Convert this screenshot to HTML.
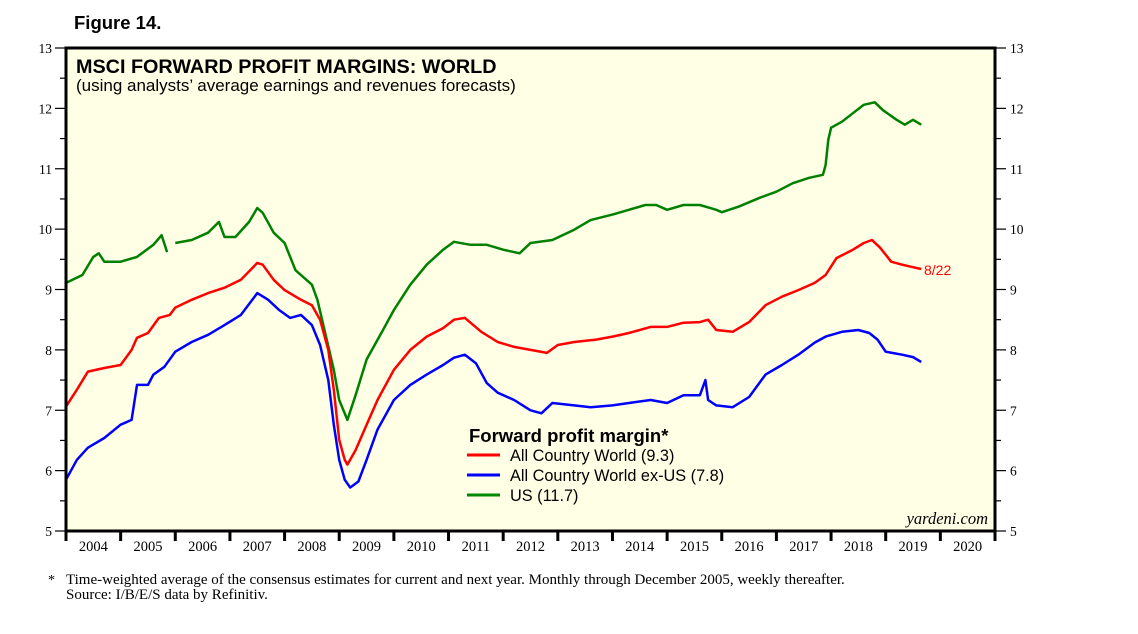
<!DOCTYPE html>
<html><head><meta charset="utf-8"><style>
body{margin:0;background:#fff;width:1138px;height:634px;overflow:hidden}
svg{display:block;font-family:"Liberation Sans",sans-serif}
.ser{font-family:"Liberation Serif",serif}
</style></head><body>
<svg id="c" width="1138" height="634">
<text x="74" y="29" font-size="18.5" font-weight="bold">Figure 14.</text>
<rect x="66" y="48" width="929" height="483" fill="#ffffe6"/>
<g id="ticks"></g>
<g id="lines"></g>
<rect x="66" y="48" width="929" height="483" fill="none" stroke="#000" stroke-width="3"/>
<text x="76" y="73" font-size="19.8" font-weight="bold">MSCI FORWARD PROFIT MARGINS: WORLD</text>
<text x="76" y="91" font-size="17">(using analysts’ average earnings and revenues forecasts)</text>
<g>
<text x="469" y="442" font-size="18.5" font-weight="bold">Forward profit margin*</text>
<line x1="467" y1="455" x2="500" y2="455" stroke="#f00" stroke-width="3"/>
<text x="510" y="461" font-size="16.3">All Country World (9.3)</text>
<line x1="467" y1="475" x2="500" y2="475" stroke="#00f" stroke-width="3"/>
<text x="510" y="481" font-size="16.3">All Country World ex-US (7.8)</text>
<line x1="467" y1="495" x2="500" y2="495" stroke="#080" stroke-width="3"/>
<text x="510" y="501" font-size="16.3">US (11.7)</text>
</g>
<text x="924" y="275" font-size="14" fill="#f00">8/22</text>
<text x="988" y="524" font-size="16.5" font-style="italic" text-anchor="end" class="ser">yardeni.com</text>
<text x="48" y="584" font-size="14" class="ser">*</text>
<text x="66" y="584" font-size="15" class="ser">Time-weighted average of the consensus estimates for current and next year. Monthly through December 2005, weekly thereafter.</text>
<text x="66" y="599" font-size="15" class="ser">Source: I/B/E/S data by Refinitiv.</text>
</svg>
<script>
const yTicks=[5,6,7,8,9,10,11,12,13];
const years=[2004,2005,2006,2007,2008,2009,2010,2011,2012,2013,2014,2015,2016,2017,2018,2019,2020];
const usDates=[2004.0,2004.3,2004.5,2004.6,2004.7,2005.0,2005.3,2005.6,2005.75,2005.85,null,2006.0,2006.3,2006.6,2006.8,2006.9,2007.1,2007.35,2007.5,2007.6,2007.8,2008.0,2008.2,2008.5,2008.6,2008.75,2008.9,2009.0,2009.15,2009.3,2009.5,2009.8,2010.0,2010.3,2010.6,2010.9,2011.1,2011.4,2011.7,2012.0,2012.3,2012.5,2012.9,2013.3,2013.6,2014.0,2014.3,2014.6,2014.8,2015.0,2015.3,2015.6,2015.9,2016.0,2016.3,2016.7,2017.0,2017.3,2017.6,2017.85,2017.9,2017.95,2018.0,2018.2,2018.4,2018.6,2018.8,2018.95,2019.2,2019.35,2019.5,2019.65];
const usVals=[9.11,9.24,9.54,9.6,9.46,9.46,9.54,9.74,9.9,9.62,null,9.77,9.82,9.94,10.12,9.87,9.87,10.12,10.35,10.27,9.94,9.77,9.32,9.08,8.83,8.25,7.67,7.17,6.84,7.25,7.84,8.33,8.66,9.08,9.41,9.66,9.79,9.74,9.74,9.66,9.6,9.77,9.82,9.99,10.15,10.24,10.32,10.4,10.4,10.32,10.4,10.4,10.32,10.28,10.37,10.52,10.62,10.76,10.85,10.9,11.06,11.48,11.68,11.78,11.92,12.06,12.1,11.97,11.81,11.73,11.81,11.73];
const acwDates=[2004.0,2004.2,2004.4,2004.7,2005.0,2005.2,2005.3,2005.5,2005.7,2005.9,2006.0,2006.3,2006.6,2006.9,2007.2,2007.5,2007.6,2007.8,2008.0,2008.3,2008.5,2008.65,2008.8,2008.9,2009.0,2009.1,2009.15,2009.3,2009.5,2009.7,2010.0,2010.3,2010.6,2010.9,2011.1,2011.3,2011.6,2011.9,2012.2,2012.5,2012.8,2013.0,2013.3,2013.7,2014.0,2014.3,2014.7,2015.0,2015.3,2015.6,2015.75,2015.9,2016.2,2016.5,2016.8,2017.1,2017.4,2017.7,2017.9,2018.1,2018.4,2018.6,2018.75,2018.9,2019.1,2019.3,2019.5,2019.65];
const acwVals=[7.06,7.34,7.64,7.7,7.75,8.0,8.2,8.28,8.53,8.58,8.7,8.83,8.94,9.03,9.16,9.44,9.41,9.16,8.99,8.83,8.74,8.5,8.0,7.34,6.51,6.18,6.1,6.34,6.76,7.17,7.67,8.0,8.22,8.36,8.5,8.53,8.3,8.13,8.05,8.0,7.95,8.08,8.13,8.17,8.22,8.28,8.38,8.38,8.45,8.46,8.5,8.33,8.3,8.46,8.74,8.88,8.99,9.11,9.24,9.52,9.66,9.77,9.82,9.69,9.46,9.41,9.37,9.34];
const exDates=[2004.0,2004.2,2004.4,2004.7,2005.0,2005.2,2005.3,2005.5,2005.6,2005.8,2006.0,2006.3,2006.6,2006.9,2007.2,2007.5,2007.7,2007.9,2008.1,2008.3,2008.5,2008.65,2008.8,2008.9,2009.0,2009.1,2009.2,2009.35,2009.5,2009.7,2010.0,2010.3,2010.6,2010.9,2011.1,2011.3,2011.5,2011.7,2011.9,2012.2,2012.5,2012.7,2012.9,2013.3,2013.6,2014.0,2014.3,2014.7,2015.0,2015.3,2015.6,2015.7,2015.75,2015.9,2016.2,2016.5,2016.8,2017.1,2017.4,2017.7,2017.9,2018.2,2018.5,2018.7,2018.85,2019.0,2019.3,2019.5,2019.65];
const exVals=[5.85,6.18,6.38,6.54,6.76,6.84,7.42,7.42,7.59,7.72,7.97,8.13,8.25,8.41,8.58,8.94,8.83,8.66,8.53,8.58,8.41,8.08,7.5,6.76,6.18,5.85,5.72,5.82,6.18,6.68,7.17,7.42,7.59,7.75,7.87,7.92,7.78,7.45,7.29,7.17,7.0,6.95,7.12,7.08,7.05,7.08,7.12,7.17,7.12,7.25,7.25,7.5,7.17,7.08,7.05,7.22,7.59,7.75,7.92,8.12,8.22,8.3,8.33,8.28,8.17,7.97,7.92,7.88,7.8];

const NS='http://www.w3.org/2000/svg';
const X0=66,X1=995,Y0=531,Y1=48;
const xs=d=>X0+(d-2004)*(X1-X0)/17;
const ys=v=>Y0-(v-5)*(Y0-Y1)/8;
function mk(tag,attrs,parent){const e=document.createElementNS(NS,tag);for(const k in attrs)e.setAttribute(k,attrs[k]);parent.appendChild(e);return e;}
const tg=document.getElementById('ticks');
yTicks.forEach(v=>{
  const y=ys(v);
  let l=mk('line',{x1:55,y1:y,x2:66,y2:y,stroke:'#000','stroke-width':1.2},tg);
  
  
  let r=mk('line',{x1:995,y1:y,x2:1006,y2:y,stroke:'#000','stroke-width':1.2},tg);
  
  
  let t=mk('text',{x:52,y:y+5,'font-size':13.5,'text-anchor':'end','class':'ser'},tg);t.textContent=v;
  
  
  let t2=mk('text',{x:1010,y:y+5,'font-size':13.5,'class':'ser'},tg);t2.textContent=v;
  
  
  if(v<13){const ym=ys(v+0.5);
    let m=mk('line',{x1:60,y1:ym,x2:66,y2:ym,stroke:'#000','stroke-width':1.2},tg);
    
    
    let m2=mk('line',{x1:995,y1:ym,x2:1001,y2:ym,stroke:'#000','stroke-width':1.2},tg);
    
    }
});
years.forEach(yr=>{
  const x=xs(yr);
  let l=mk('line',{x1:x,y1:531,x2:x,y2:541,stroke:'#000','stroke-width':3},tg);
  
  
  let t=mk('text',{x:xs(yr+0.5),y:551,'font-size':14.5,'text-anchor':'middle','class':'ser'},tg);t.textContent=yr;
  
  
});
let le=mk('line',{x1:995,y1:531,x2:995,y2:541,stroke:'#000','stroke-width':3},tg);


const lg=document.getElementById('lines');
function series(dates,vals,color,name){
  let d='',pen=false;
  dates.forEach((dt,i)=>{
    if(dt===null||vals[i]===null){pen=false;return;}
    d+=(pen?'L':'M')+xs(dt).toFixed(1)+' '+ys(vals[i]).toFixed(1)+' ';pen=true;
  });
  const p=mk('path',{d:d,fill:'none',stroke:color,'stroke-width':2.5,'stroke-linejoin':'round'},lg);
  
  
}
series(usDates,usVals,'#008000','line-us');
series(acwDates,acwVals,'#ff0000','line-all-country-world');
series(exDates,exVals,'#0000ff','line-all-country-world-ex-us');
</script>
</body></html>
